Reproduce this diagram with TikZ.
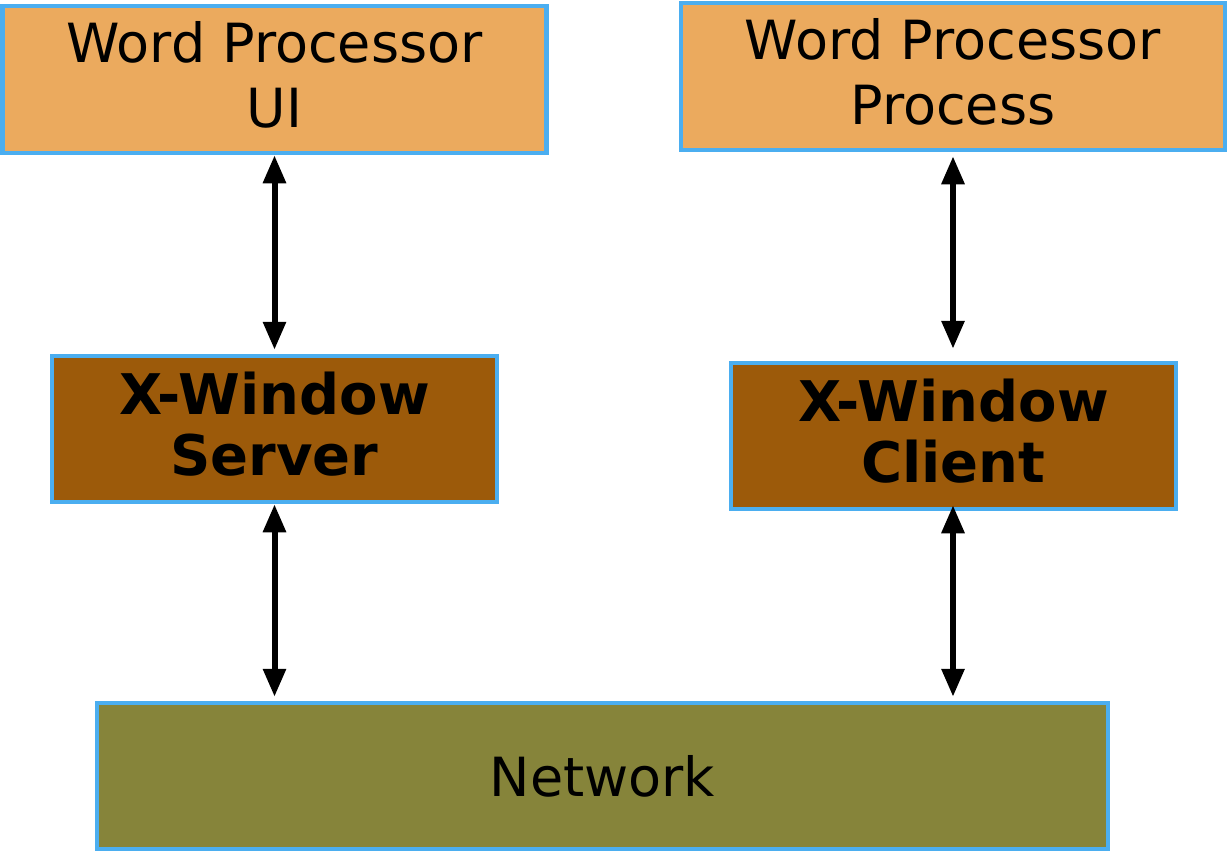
\documentclass[tikz,border=0pt]{standalone}
\usepackage{fontspec}
\setmainfont{DejaVu Sans}
\usepackage{tikz}
\usetikzlibrary{arrows.meta,positioning}
\definecolor{edgeblue}{HTML}{4BAEF0}
\definecolor{wporange}{HTML}{EBAA5E}
\definecolor{xbrown}{HTML}{9C5A0A}
\definecolor{netolive}{HTML}{86843A}
\tikzset{
  box/.style={draw=edgeblue,line width=4.5pt,inner sep=0pt,align=center,text=black},
  wpbox/.style={box,fill=wporange,minimum width=544pt,minimum height=147pt,
                text depth=10pt,font=\fontsize{54}{65}\selectfont},
  xbox/.style={box,fill=xbrown,minimum width=445pt,minimum height=146pt,
               text depth=10pt,font=\fontsize{56}{61}\selectfont\bfseries},
  netbox/.style={box,fill=netolive,minimum width=1011pt,minimum height=146pt,
                 font=\fontsize{54}{65}\selectfont},
  link/.style={line width=6pt,{Triangle[length=28pt,width=22pt]}-{Triangle[length=28pt,width=22pt]}}
}
\begin{document}
\begin{tikzpicture}[x=1pt,y=-1pt]
 \useasboundingbox (0,0) rectangle (1228,852);
 \node[wpbox] (ui) at (274.5,79.5) {Word Processor\\UI};
 \node[wpbox] (proc) at (953,76.5) {Word Processor\\Process};
 \node[xbox] (server) at (274.5,429) {X-Window\\Server};
 \node[xbox] (client) at (953.5,436) {X-Window\\Client};
 \node[netbox] (net) at (602.5,776) {Network};
 \draw[link,shorten >=4pt] (ui.south) -- (server.north);
 \draw[link,shorten <=4pt,shorten >=12pt] (proc.south) -- (client.north -| proc.south);
 \draw[link,shorten >=4pt] (server.south) -- (server.south |- net.north);
 \draw[link,shorten <=-6pt,shorten >=4pt] (client.south -| proc.south) -- (proc.south |- net.north);
\end{tikzpicture}
\end{document}
